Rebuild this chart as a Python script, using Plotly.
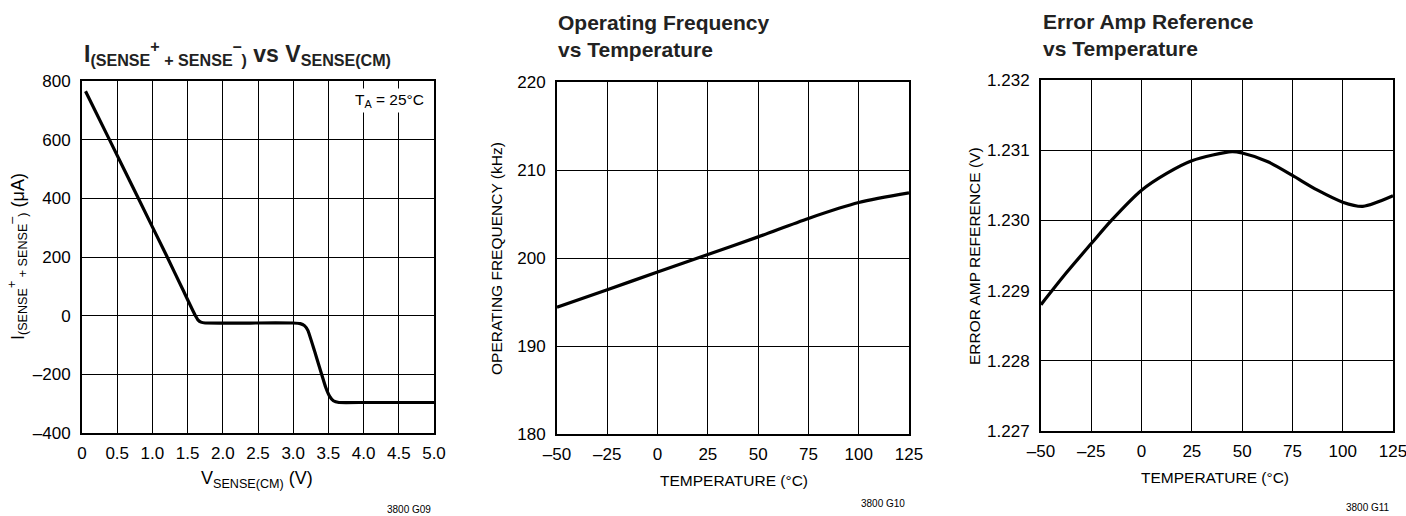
import plotly.graph_objects as go

# ---------- data ----------
# Panel 1: I(SENSE+ + SENSE-) vs VSENSE(CM)
v_sense = [0.05, 0.4, 0.8, 1.2, 1.43, 1.6, 1.65, 1.69, 1.75, 2.5, 3.0, 3.1, 3.16, 3.21, 3.3, 3.46, 3.52, 3.57, 3.65, 4.0, 5.0]
i_sense = [765, 595, 400, 205, 90, 5, -15, -22, -25, -25, -25, -27, -34, -51, -118, -243, -276, -290, -296, -296, -296]
x1_ticks = [0, 0.5, 1.0, 1.5, 2.0, 2.5, 3.0, 3.5, 4.0, 4.5, 5.0]
x1_labels = ["0", "0.5", "1.0", "1.5", "2.0", "2.5", "3.0", "3.5", "4.0", "4.5", "5.0"]
y1_ticks = [-400, -200, 0, 200, 400, 600, 800]
y1_labels = ["\u2013400", "\u2013200", "0", "200", "400", "600", "800"]

# Panel 2: Operating frequency vs temperature
temp_f = [-50, -25, 0, 25, 50, 75, 100, 125]
freq = [194.4, 196.4, 198.4, 200.4, 202.4, 204.5, 206.3, 207.4]
y2_ticks = [180, 190, 200, 210, 220]

# Panel 3: Error amp reference vs temperature
temp_r = [-50, -37.5, -25, -15, 0, 12.5, 25, 45, 50, 62.5, 75, 87.5, 100, 110, 125]
vref = [1.22880, 1.22925, 1.22967, 1.23000, 1.23043, 1.23067, 1.23085, 1.23098, 1.23096, 1.23084, 1.23064, 1.23043, 1.23026, 1.23020, 1.23035]
y3_ticks = [1.227, 1.228, 1.229, 1.230, 1.231, 1.232]
y3_labels = ["1.227", "1.228", "1.229", "1.230", "1.231", "1.232"]

t_ticks = [-50, -25, 0, 25, 50, 75, 100, 125]
t_labels = ["\u201350", "\u201325", "0", "25", "50", "75", "100", "125"]

# ---------- figure ----------
W, H = 1406, 516
FONT = "Liberation Sans, Arial, Helvetica, sans-serif"
TICKF = dict(family=FONT, size=17, color="black")

fig = go.Figure()
fig.add_trace(go.Scatter(x=v_sense, y=i_sense, mode="lines", line=dict(color="black", width=3.2, shape="spline", smoothing=0.3),
                         xaxis="x", yaxis="y", showlegend=False))
fig.add_trace(go.Scatter(x=temp_f, y=freq, mode="lines", line=dict(color="black", width=3.2, shape="spline", smoothing=0.8),
                         xaxis="x2", yaxis="y2", showlegend=False))
fig.add_trace(go.Scatter(x=temp_r, y=vref, mode="lines", line=dict(color="black", width=3.2, shape="spline", smoothing=0.8),
                         xaxis="x3", yaxis="y3", showlegend=False))

def px_x(p):
    return p / W

def px_y(p):
    return 1 - p / H

def ax_common(standoff):
    return dict(showgrid=True, gridcolor="black", gridwidth=1, zeroline=False,
                showline=True, linecolor="black", linewidth=2, mirror=True, automargin=False,
                ticks="", tickfont=TICKF, ticklabelstandoff=standoff, ticklabeloverflow="allow",
                fixedrange=True)

XS, YS = 4, 6
fig.update_layout(
    template="none",
    width=W, height=H, margin=dict(l=0, r=0, t=0, b=0),
    paper_bgcolor="white", plot_bgcolor="white",
    xaxis=dict(domain=[px_x(82), px_x(434)], range=[0, 5], tickvals=x1_ticks, ticktext=x1_labels, anchor="y", **ax_common(XS)),
    yaxis=dict(domain=[px_y(433), px_y(81)], range=[-400, 800], tickvals=y1_ticks, ticktext=y1_labels, anchor="x", **ax_common(YS)),
    xaxis2=dict(domain=[px_x(557), px_x(909)], range=[-50, 125], tickvals=t_ticks, ticktext=t_labels, anchor="y2", **ax_common(XS)),
    yaxis2=dict(domain=[px_y(434), px_y(82)], range=[180, 220], tickvals=y2_ticks, anchor="x2", **ax_common(YS)),
    xaxis3=dict(domain=[px_x(1041), px_x(1393)], range=[-50, 125], tickvals=t_ticks, ticktext=t_labels, anchor="y3", **ax_common(XS)),
    yaxis3=dict(domain=[px_y(431), px_y(80)], range=[1.227, 1.232], tickvals=y3_ticks, ticktext=y3_labels, anchor="x3", **ax_common(YS)),
)

TITLEF = dict(family=FONT, size=21, color="#222")
TITLEF1 = dict(family=FONT, size=23, color="#222")
AXF = dict(family=FONT, size=15.5, color="black")
AXF1 = dict(family=FONT, size=18, color="black")
NOTEF = dict(family=FONT, size=10, color="black")

ann = []
# titles
ann.append(dict(x=px_x(82), y=px_y(53), xanchor="left", yanchor="middle",
                text="<b>I<sub>(SENSE</sub><sup>+</sup><sub> + SENSE</sub><sup>\u2013</sup><sub>)</sub> vs V<sub>SENSE(CM)</sub></b>",
                font=TITLEF1))
ann.append(dict(x=px_x(556), y=px_y(36), xanchor="left", yanchor="middle", align="left",
                text="<b>Operating Frequency<br>vs Temperature</b>", font=TITLEF))
ann.append(dict(x=px_x(1041), y=px_y(35), xanchor="left", yanchor="middle", align="left",
                text="<b>Error Amp Reference<br>vs Temperature</b>", font=TITLEF))
# axis titles
ann.append(dict(x=px_x(257), y=px_y(479), xanchor="center", yanchor="middle",
                text="V<sub>SENSE(CM)</sub> (V)", font=AXF1))
ann.append(dict(x=px_x(734), y=px_y(480), xanchor="center", yanchor="middle",
                text="TEMPERATURE (\u00b0C)", font=AXF))
ann.append(dict(x=px_x(1215), y=px_y(477), xanchor="center", yanchor="middle",
                text="TEMPERATURE (\u00b0C)", font=AXF))
ann.append(dict(x=px_x(17), y=px_y(257), xanchor="center", yanchor="middle", textangle=-90,
                text="I<sub>(SENSE</sub><sup>+</sup><sub> + SENSE</sub><sup>\u2013</sup><sub>)</sub> (\u03bcA)", font=AXF1))
ann.append(dict(x=px_x(496), y=px_y(259), xanchor="center", yanchor="middle", textangle=-90,
                text="OPERATING FREQUENCY (kHz)", font=AXF))
ann.append(dict(x=px_x(974), y=px_y(256), xanchor="center", yanchor="middle", textangle=-90,
                text="ERROR AMP REFERENCE (V)", font=AXF))
# condition label
ann.append(dict(x=px_x(427), y=px_y(100), xanchor="right", yanchor="middle",
                text="T<sub>A</sub> = 25\u00b0C", font=AXF, bgcolor="white", borderpad=2))
# figure codes
ann.append(dict(x=px_x(433), y=px_y(509), xanchor="right", yanchor="middle", text="3800 G09", font=NOTEF))
ann.append(dict(x=px_x(907), y=px_y(503), xanchor="right", yanchor="middle", text="3800 G10", font=NOTEF))
ann.append(dict(x=px_x(1392), y=px_y(507), xanchor="right", yanchor="middle", text="3800 G11", font=NOTEF))

for a in ann:
    a.update(xref="paper", yref="paper", showarrow=False)
fig.update_layout(annotations=ann)

fig.write_html("out.html", config={"displayModeBar": False},
               post_script="document.body.style.margin='0';document.body.style.overflow='hidden';")
